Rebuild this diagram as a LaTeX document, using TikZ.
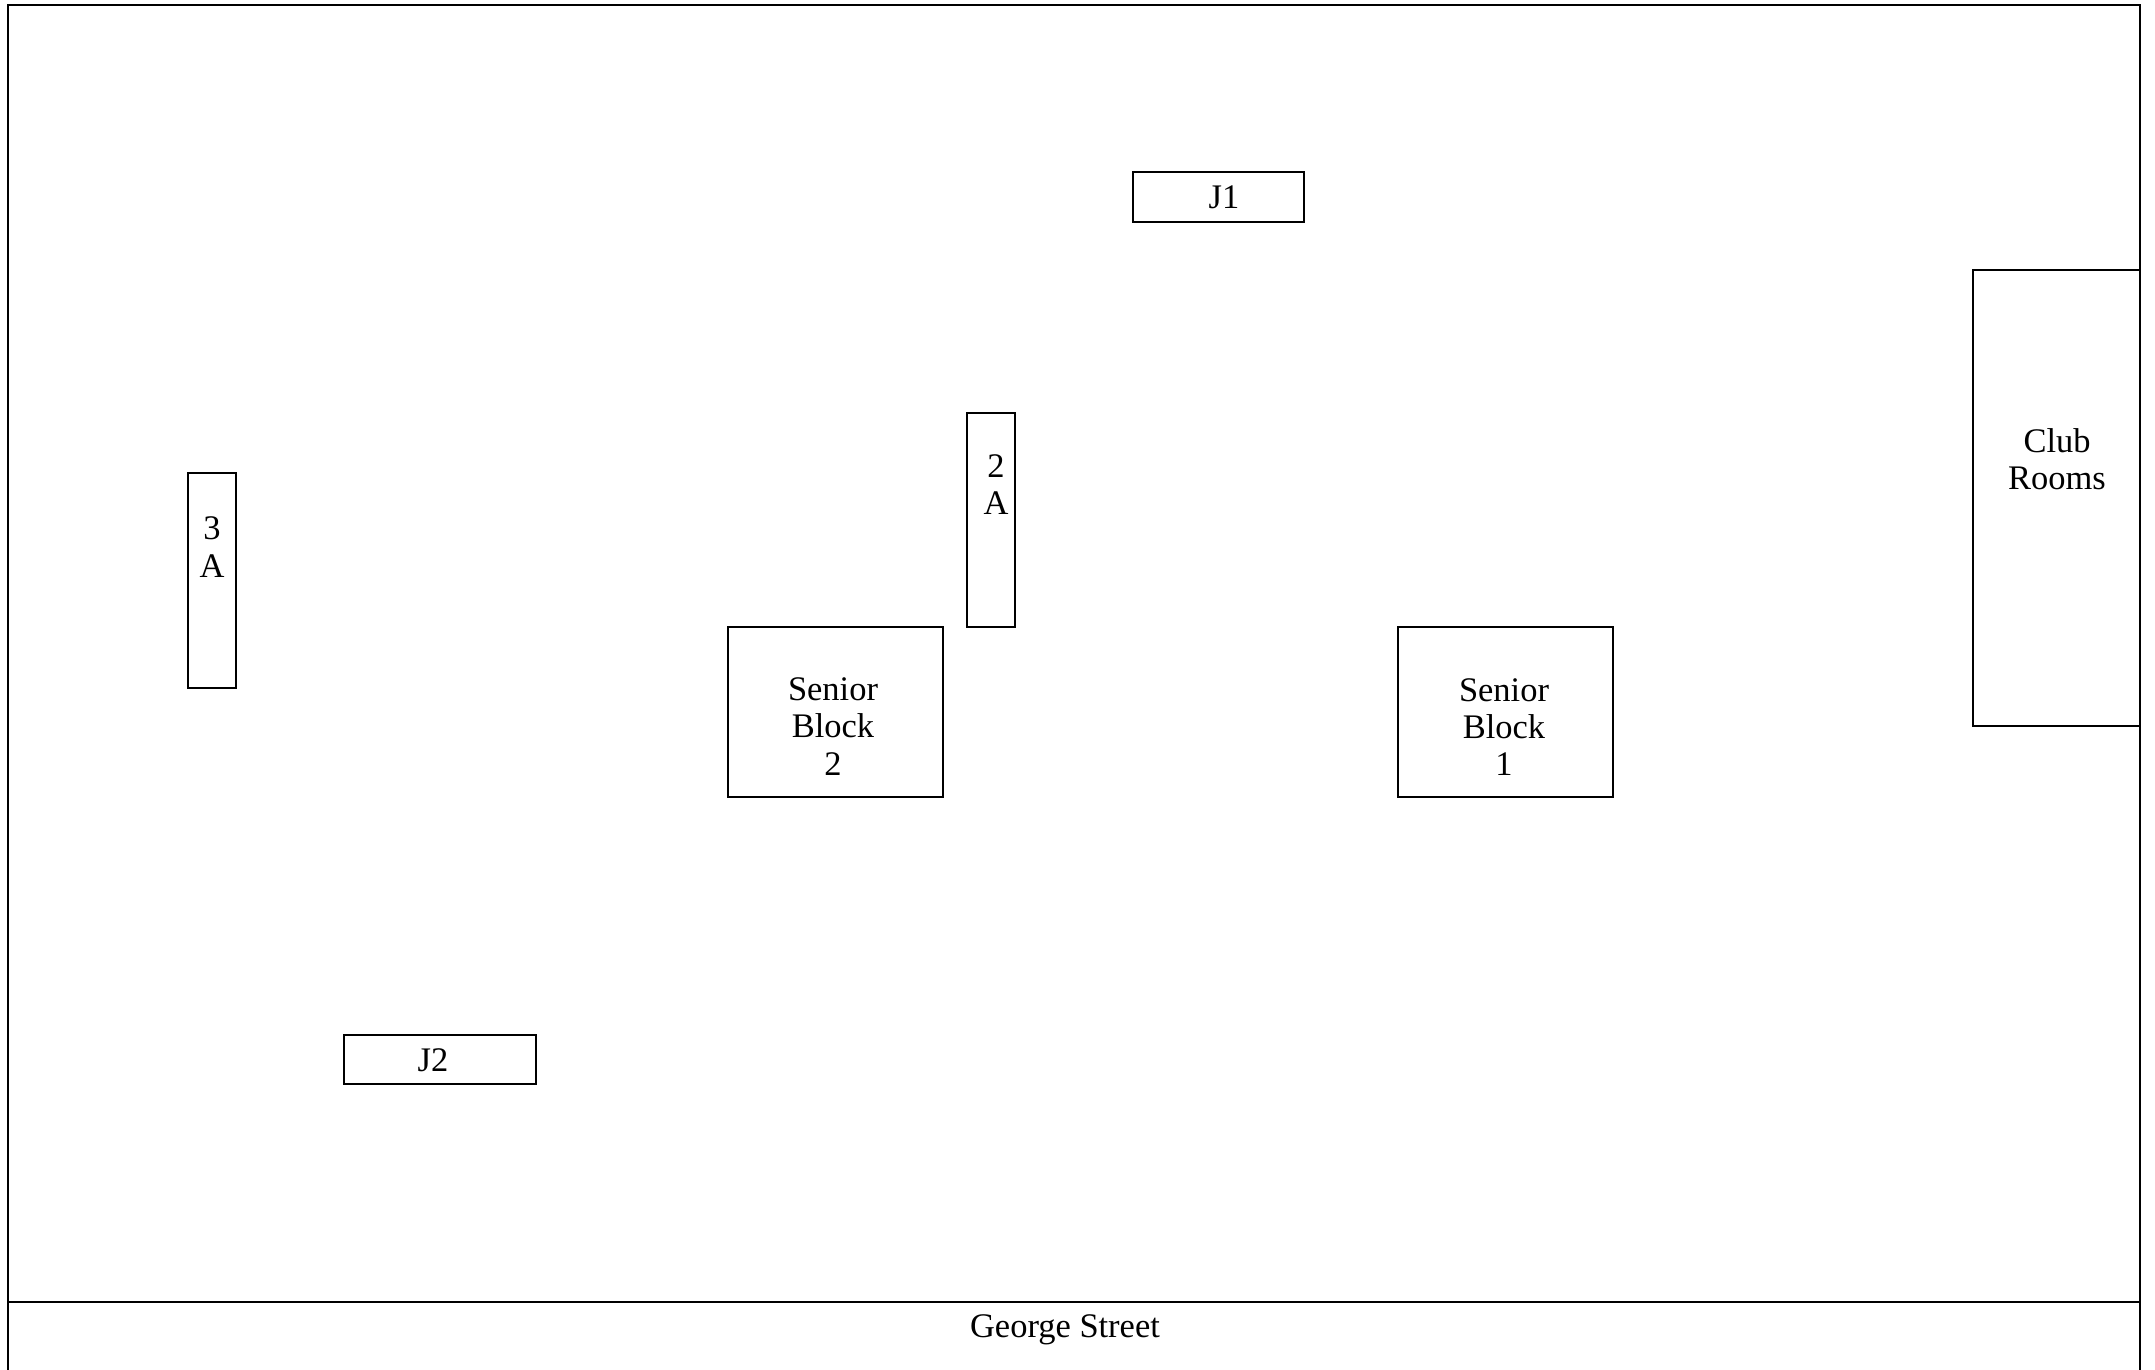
\documentclass[tikz,border=0pt]{standalone}
\usepackage{fontspec}
\setmainfont{Liberation Serif}
\usetikzlibrary{positioning}
\tikzset{
  plot/.style 2 args={draw=black,line width=0.6pt,inner sep=0pt,outer sep=0pt,
    minimum width=#1,minimum height=#2},
  tag/.style={font=\fontsize{9.8}{10.6}\selectfont,align=center,inner sep=0pt},
}
\begin{document}
\begin{tikzpicture}[x=0.01cm,y=-0.01cm]
  \useasboundingbox (0,0) rectangle (2155,1370);
  % ground boundary and street
  \draw[line width=0.7pt] (8,1372) -- (8,5) -- (2140,5) -- (2140,1372);
  \coordinate (streetW) at (8,1302);
  \coordinate (streetE) at (2140,1302);
  \draw[line width=0.7pt] (streetW) -- (streetE);
  \node[tag] (street) at (1065,1330) {George Street};
  % fields and buildings
  \node[plot={1.71cm}{0.50cm}] (j1) at (1218.5,197) {};
  \node[plot={1.92cm}{0.49cm}] (j2) at (440,1059.5) {};
  \node[plot={0.48cm}{2.14cm}] (twoA) at (991,520) {};
  \node[plot={0.48cm}{2.15cm}] (threeA) at (212,580.5) {};
  \node[plot={2.15cm}{1.70cm}] (senior2) at (835.5,712) {};
  \node[plot={2.15cm}{1.70cm}] (senior1) at (1505.5,712) {};
  \node[plot={1.67cm}{4.56cm}] (club) at (2056.5,498) {};
  % labels
  \node[tag] (j1t) at (1224,197) {J1};
  \node[tag] (j2t) at (433,1060) {J2};
  \node[tag] (twoAt) at (996,484.5) {2\\A};
  \node[tag] (threeAt) at (212,547) {3\\A};
  \node[tag] (senior2t) at (833,726.5) {Senior\\Block\\2};
  \node[tag] (senior1t) at (1504,727) {Senior\\Block\\1};
  \node[tag] (clubt) at (2057,459) {Club\\Rooms};
\end{tikzpicture}
\end{document}
